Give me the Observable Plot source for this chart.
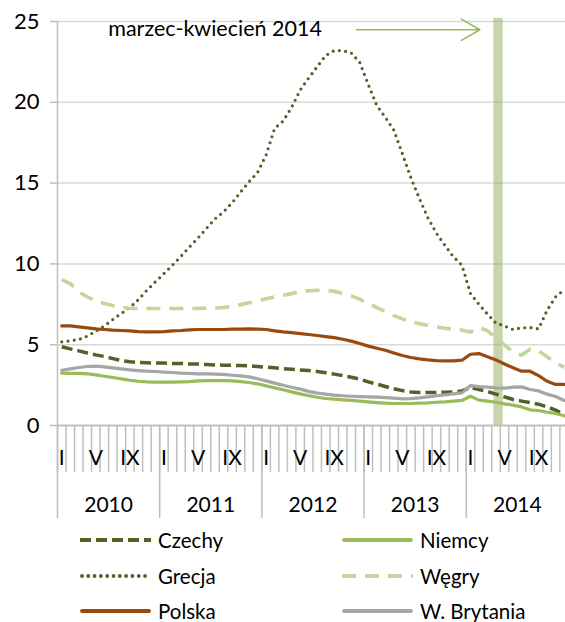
<!DOCTYPE html>
<html><head><meta charset="utf-8">
<script src="https://cdn.jsdelivr.net/npm/d3@7"></script>
<script src="https://cdn.jsdelivr.net/npm/@observablehq/plot@0.6"></script>
<style>
body{margin:0;background:#fff;font-family:Lato, "Open Sans", sans-serif;}
#chart{width:565px;}
.legend{position:relative;width:565px;height:98px;}
.item{position:absolute;display:flex;align-items:center;height:26px;font-size:20.5px;color:#000;}
.item svg{margin-right:7px;}
</style></head><body><div id="chart"></div><script>
const years = [2010, 2011, 2012, 2013, 2014];
const monthLabels = ["I","","","","V","","","","IX","","",""];

const czechy = [4.87,4.74,4.62,4.49,4.37,4.27,4.14,4.02,3.94,3.90,3.88,3.86,
  3.86,3.84,3.84,3.81,3.80,3.77,3.75,3.73,3.72,3.71,3.69,3.65,
  3.61,3.57,3.52,3.48,3.44,3.40,3.34,3.26,3.18,3.09,2.99,2.87,
  2.70,2.56,2.41,2.27,2.16,2.08,2.04,2.04,2.04,2.06,2.08,2.14,
  2.35,2.23,2.10,1.94,1.77,1.61,1.51,1.42,1.32,1.15,0.95,0.68];
const niemcy = [3.24,3.22,3.22,3.20,3.13,3.05,2.97,2.89,2.80,2.74,2.70,2.68,
  2.68,2.68,2.70,2.72,2.76,2.78,2.78,2.78,2.76,2.72,2.66,2.58,
  2.45,2.33,2.21,2.08,1.96,1.85,1.75,1.67,1.63,1.59,1.55,1.51,
  1.46,1.42,1.38,1.36,1.36,1.36,1.38,1.40,1.44,1.46,1.51,1.55,
  1.81,1.57,1.51,1.44,1.34,1.26,1.15,0.97,0.93,0.82,0.74,0.60];
const grecja = [5.18,5.24,5.32,5.53,5.84,6.16,6.56,6.93,7.30,7.79,8.37,8.89,
  9.40,9.92,10.47,11.05,11.60,12.20,12.79,13.22,13.78,14.44,15.08,15.66,
  16.74,18.39,18.84,19.69,20.76,21.50,22.20,22.90,23.20,23.20,23.05,22.46,
  21.10,19.80,19.07,18.28,16.82,15.33,14.05,12.85,11.90,11.15,10.43,9.92,
  8.16,7.50,6.89,6.33,6.16,5.94,6.04,6.06,5.98,7.13,7.96,8.40];
const wegry = [9.03,8.78,8.27,7.96,7.70,7.55,7.42,7.32,7.26,7.24,7.24,7.24,
  7.24,7.24,7.24,7.24,7.25,7.26,7.28,7.30,7.36,7.48,7.60,7.70,
  7.84,7.96,8.06,8.16,8.27,8.34,8.37,8.37,8.30,8.18,8.02,7.81,
  7.55,7.30,7.05,6.80,6.60,6.43,6.29,6.20,6.10,6.02,5.96,5.90,
  5.78,6.06,5.86,5.44,4.97,4.55,4.35,4.72,4.62,4.25,3.88,3.60];
const polska = [6.16,6.16,6.10,6.04,5.98,5.94,5.90,5.88,5.85,5.81,5.79,5.79,
  5.81,5.86,5.88,5.92,5.94,5.94,5.94,5.94,5.96,5.96,5.98,5.96,
  5.94,5.86,5.79,5.75,5.69,5.63,5.57,5.50,5.44,5.34,5.22,5.07,
  4.91,4.78,4.66,4.49,4.33,4.21,4.12,4.06,4.02,4.00,4.00,4.04,
  4.41,4.45,4.25,4.06,3.81,3.57,3.36,3.36,3.09,2.74,2.54,2.54];
const brytania = [3.42,3.50,3.59,3.65,3.67,3.63,3.57,3.50,3.44,3.40,3.36,3.34,
  3.30,3.28,3.24,3.22,3.20,3.19,3.18,3.16,3.11,3.07,3.01,2.89,
  2.76,2.62,2.49,2.37,2.25,2.11,2.00,1.94,1.88,1.84,1.81,1.79,
  1.77,1.75,1.73,1.69,1.65,1.66,1.71,1.77,1.84,1.90,1.96,2.02,
  2.47,2.41,2.37,2.33,2.31,2.37,2.39,2.23,2.14,1.94,1.79,1.55];

const annotationText = "marzec-kwiecień 2014";
const bandSpan = {x1: 50.75, x2: 51.85};   // marzec-kwiecień 2014 band, in month-index units

const series = [
  {name: "Czechy", values: czechy, stroke: "#4F6228", width: 3.5, dash: "11,5", cap: "butt"},
  {name: "Niemcy", values: niemcy, stroke: "#9BBB59", width: 3.2, dash: null, cap: "round"},
  {name: "Grecja", values: grecja, stroke: "#4F6228", width: 3.2, dash: "0,6.3", cap: "round"},
  {name: "Węgry", values: wegry, stroke: "#C3D69B", width: 3.6, dash: "14,9", cap: "butt"},
  {name: "Polska", values: polska, stroke: "#9A4A0C", width: 3.2, dash: null, cap: "round"},
  {name: "W. Brytania", values: brytania, stroke: "#A6A6A6", width: 3.2, dash: null, cap: "round"}
];

const nMonths = years.length * 12;
const monthIdx = d3.range(nMonths);
const monthBounds = monthIdx.map(i => i - 0.5);
const yearBounds = years.map((y, k) => k * 12 - 0.5);
const monthLabelIdx = monthIdx.filter(i => monthLabels[i % 12] !== "");
const yearCenters = years.map((y, k) => k * 12 + 5.5);

const lineMarks = series.map(s => Plot.line(s.values.map((v, i) => ({i, v})), {
  x: "i", y: "v", stroke: s.stroke, strokeWidth: s.width,
  strokeDasharray: s.dash || undefined, strokeLinecap: s.cap, strokeLinejoin: "round"
}));

const grey = "#BFBFBF";
const plot = Plot.plot({
  width: 565, height: 524,
  marginLeft: 57, marginRight: 0, marginTop: 21, marginBottom: 99,
  style: {fontFamily: "Lato, 'Open Sans', sans-serif", fontSize: "21px", color: "#000", background: "#fff", overflow: "visible"},
  x: {type: "linear", domain: [-0.5, 59.16], axis: null},
  y: {domain: [0, 25], axis: null},
  marks: [
    Plot.gridY([5, 10, 15, 20, 25], {stroke: "#D9D9D9", strokeOpacity: 1, strokeWidth: 1.5}),
    Plot.rect([bandSpan], {x1: "x1", x2: "x2", y1: 0, y2: 25.2, fill: "#8FAA5A", fillOpacity: 0.5}),
    Plot.ruleY([0], {stroke: grey, strokeWidth: 2}),
    Plot.ruleX([-0.5], {y1: 0, y2: 25, stroke: grey, strokeWidth: 1.5}),
    Plot.axisY({ticks: [0, 5, 10, 15, 20, 25], tickSize: 7, tickPadding: 11, stroke: grey, strokeWidth: 1.5, fill: "#000", fontSize: 22, label: null}),
    Plot.axisX(monthBounds, {tickSize: 47, tickFormat: () => "", stroke: grey, strokeWidth: 1.5, label: null}),
    Plot.axisX(yearBounds, {tickSize: 93, tickFormat: () => "", stroke: grey, strokeWidth: 1.5, label: null}),
    Plot.axisX(monthLabelIdx, {tickSize: 0, tickPadding: 25, tickFormat: i => monthLabels[i % 12], fill: "#000", fontSize: 21, label: null}),
    Plot.axisX(yearCenters, {tickSize: 0, tickPadding: 72, tickFormat: c => String(years[Math.floor(c / 12)]), fill: "#000", fontSize: 21, label: null}),
    ...lineMarks,
    Plot.text([annotationText], {x: 5.46, y: 24.5, text: d => d, textAnchor: "start", lineAnchor: "middle", fill: "#000", fontSize: 21.5}),
    Plot.arrow([{x1: 34.6, x2: 49.1, y: 24.49}], {x1: "x1", x2: "x2", y1: "y", y2: "y", stroke: "#9BBB59", strokeWidth: 1.6, headLength: 20, headAngle: 60})
  ]
});
document.getElementById("chart").appendChild(plot);

// legend
const legend = document.createElement("div");
legend.className = "legend";
const cols = [80, 342];
const rowsY = [16, 52, 87];
series.forEach((s, k) => {
  const item = document.createElement("div");
  item.className = "item";
  item.style.left = cols[k % 2] + "px";
  item.style.top = (rowsY[Math.floor(k / 2)] - 13) + "px";
  const svg = d3.create("svg").attr("width", 71).attr("height", 10);
  svg.append("line").attr("x1", s.cap === "round" ? 2 : 0).attr("x2", s.cap === "round" ? 69 : 71).attr("y1", 5).attr("y2", 5)
    .attr("stroke", s.stroke).attr("stroke-width", s.width + 0.6)
    .attr("stroke-dasharray", s.dash)
    .attr("stroke-linecap", s.cap);
  item.appendChild(svg.node());
  const t = document.createElement("span");
  t.textContent = s.name;
  item.appendChild(t);
  legend.appendChild(item);
});
document.body.appendChild(legend);
</script></body></html>
